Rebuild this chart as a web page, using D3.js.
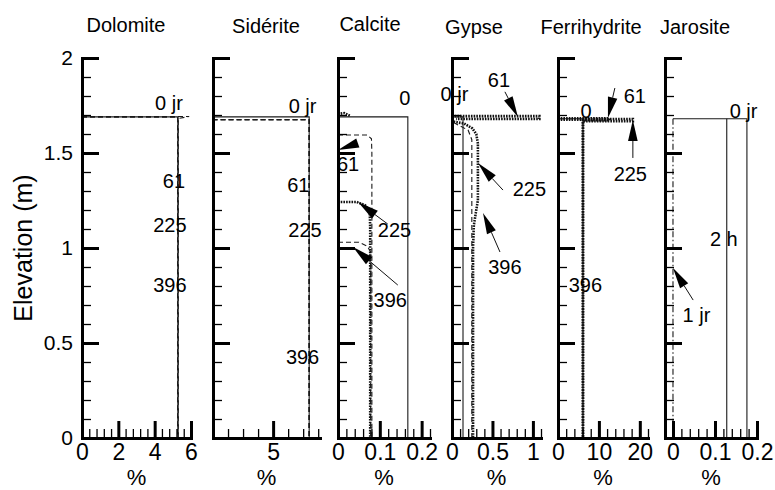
<!DOCTYPE html>
<html><head><meta charset="utf-8">
<script src="https://cdn.jsdelivr.net/npm/d3@7/dist/d3.min.js"></script>
<style>body{margin:0;background:#fff}svg{display:block;font-family:"Liberation Sans",Arial,Helvetica,sans-serif}</style>
</head><body><svg id="c" width="775" height="490"></svg>
<script>
// ---------------- DATA ----------------
const panelNames = ["Dolomite", "Sidérite", "Calcite", "Gypse", "Ferrihydrite", "Jarosite"];
const yTitle = "Elevation (m)";
const xUnit = "%";
const yDomain = [0, 2];
const yTickValues = [0, 0.5, 1, 1.5, 2];
const yTickLabels = ["0", "0.5", "1", "1.5", "2"];
const yMinorStep = 0.1;
const xDomains = [[0, 6], [4, 5.78], [0, 0.22], [0, 1.1], [0, 22], [-0.019, 0.2]];
const xTickValues = [[0, 2, 4, 6], [5], [0, 0.1, 0.2], [0, 0.5, 1], [0, 10, 20], [0, 0.1, 0.2]];
const xTickLabels = [["0", "2", "4", "6"], ["5"], ["0", "0.1", "0.2"], ["0", "0.5", "1"], ["0", "10", "20"], ["0", "0.1", "0.2"]];
const xMinorSteps = [0.4, 0.25, 0.02, 0.1, 2, 0.02];

// profiles: [value (%), elevation (m)], null = gap
const dolomiteSeries = [
  {name: "0 jr", style: "solid",  pts: [[0, 1.69], [5.28, 1.69], [5.28, 0]]},
  {name: "61",   style: "dashed", pts: [[0, 1.692], [5.9, 1.692], [5.3, 1.682], [5.3, 0]]},
  {name: "225",  style: "dashed", pts: [[0, 1.69], [5.27, 1.69], [5.27, 0]]},
  {name: "396",  style: "dashed", pts: [[0, 1.69], [5.27, 1.69], [5.27, 0]]}
];
const sideriteSeries = [
  {name: "0 jr", style: "solid",  pts: [[0, 1.69], [5.6, 1.69], [5.6, 0]]},
  {name: "61",   style: "dashed", pts: [[0, 1.675], [5.6, 1.675], [5.6, 0]]},
  {name: "225",  style: "dashed", pts: [[0, 1.675], [5.6, 1.675], [5.6, 0]]},
  {name: "396",  style: "dashed", pts: [[0, 1.675], [5.6, 1.675], [5.6, 0]]}
];
const calciteSeries = [
  {name: "0",   style: "solid",  pts: [[0, 1.69], [0.167, 1.69], [0.167, 0]]},
  {name: "61",  style: "dashed", pts: [[0, 1.595], [0.07, 1.595], [0.08, 1.575], [0.081, 1.5], [0.081, 0]]},
  {name: "225", style: "dotted", pts: [[0, 1.705], [0.015, 1.71], [0.03, 1.695], null, [0, 1.242], [0.045, 1.242], [0.065, 1.225], [0.076, 1.19], [0.077, 1.1], [0.077, 0]]},
  {name: "396", style: "dashed", pts: [[0, 1.03], [0.05, 1.03], [0.07, 1.01], [0.078, 0.98], [0.078, 0]]}
];
const gypseSeries = [
  {name: "0 jr", style: "solid",  pts: [[0, 1.69], [0.136, 1.69], [0.136, 0]]},
  {name: "61",   style: "dotted", pts: [[0, 1.694], [1.08, 1.694], [1.08, 1.679], [0.05, 1.679]]},
  {name: "225",  style: "dotted", pts: [[0.02, 1.665], [0.15, 1.655], [0.25, 1.63], [0.3, 1.6], [0.32, 1.55], [0.32, 1.25], [0.3, 1.2], [0.27, 1.12], [0.26, 1.0], [0.26, 0]]},
  {name: "396",  style: "dashed", pts: [[0.02, 1.66], [0.2, 1.62], [0.245, 1.57], [0.245, 0]]}
];
const ferriSeries = [
  {name: "0",   style: "solid",  pts: [[0, 1.68], [6.1, 1.68], [6.1, 0]]},
  {name: "61",  style: "dotted", pts: [[0, 1.682], [12.5, 1.682], [12.5, 1.672], [6.1, 1.672], [6.1, 0]]},
  {name: "225", style: "dotted", pts: [[6.1, 1.679], [18.3, 1.679], [18.3, 1.668], [6.1, 1.668]]},
  {name: "396", style: "dotted", pts: [[0, 1.675], [6.1, 1.675], [6.1, 0]]}
];
const jarositeSeries = [
  {name: "0 jr", style: "solid",   pts: [[0, 1.68], [0.176, 1.68], [0.176, 0]]},
  {name: "2 h",  style: "solid",   pts: [[0.128, 1.68], [0.128, 0]]},
  {name: "1 jr", style: "dashdot", pts: [[0, 1.68], [0, 0]]}
];
const allSeries = [dolomiteSeries, sideriteSeries, calciteSeries, gypseSeries, ferriSeries, jarositeSeries];

// curve annotations: text placed at [value, elevation]
const dolomiteLabels = [["0 jr", 4.79, 1.766], ["61", 5.06, 1.353], ["225", 4.84, 1.121], ["396", 4.84, 0.805]];
const sideriteLabels = [["0 jr", 5.49, 1.747], ["61", 5.42, 1.334], ["225", 5.53, 1.097], ["396", 5.49, 0.429]];
const calciteLabels  = [["0", 0.160, 1.792], ["61", 0.024, 1.445], ["225", 0.135, 1.095], ["396", 0.125, 0.726]];
const gypseLabels    = [["0 jr", 0.03, 1.813], ["61", 0.58, 1.884], ["225", 0.957, 1.311], ["396", 0.654, 0.903]];
const ferriLabels    = [["0", 6.83, 1.724], ["61", 18.78, 1.80], ["225", 17.68, 1.389], ["396", 6.71, 0.805]];
const jarositeLabels = [["0 jr", 0.168, 1.724], ["2 h", 0.121, 1.05], ["1 jr", 0.056, 0.647]];
const allLabels = [dolomiteLabels, sideriteLabels, calciteLabels, gypseLabels, ferriLabels, jarositeLabels];

// arrows: tip [value, elevation] and tail [value, elevation]
const calciteArrows = [[[0.0, 1.516], [0.048, 1.553]], [[0.048, 1.242], [0.119, 1.126]], [[0.036, 1.005], [0.143, 0.805]]];
const gypseArrows   = [[[0.815, 1.689], [0.654, 1.822]], [[0.321, 1.447], [0.63, 1.305]], [[0.383, 1.184], [0.593, 0.979]]];
const ferriArrows   = [[[12.2, 1.684], [13.9, 1.842]], [[18.3, 1.674], [18.3, 1.474]]];
const jarositeArrows = [[[0, 0.895], [0.048, 0.726]]];
const allArrows = [[], [], calciteArrows, gypseArrows, ferriArrows, jarositeArrows];

// ---------------- LAYOUT ----------------
const panelLeft  = [82, 213, 338, 452, 558, 665];
const panelRight = [191, 320, 430, 541, 648, 757];
const titleX = [126, 266, 370, 474, 591, 695];
const titleY = [32, 33, 31, 34, 34, 34];
const plotTop = 58, plotBottom = 438;
const styles = {
  solid:   {w: 1.1, dash: null, color: "#1a1a1a"},
  dashed:  {w: 1.1, dash: "5,3", color: "#1a1a1a"},
  dotted:  {w: 2.6, dash: "1.6,1.1", color: "#111"},
  dashdot: {w: 1.1, dash: "6,2.5,1.5,2.5", color: "#1a1a1a"}
};

const svg = d3.select("#c");
const y = d3.scaleLinear().domain(yDomain).range([plotBottom, plotTop]);
const defs = svg.append("defs");

panelNames.forEach((name, i) => {
  const x = d3.scaleLinear().domain(xDomains[i]).range([panelLeft[i], panelRight[i]]);
  const g = svg.append("g");

  defs.append("clipPath").attr("id", "clip" + i).append("rect")
    .attr("x", panelLeft[i]).attr("y", 40).attr("width", panelRight[i] - panelLeft[i] + 20).attr("height", plotBottom - 40);

  // curves
  const line = d3.line().defined(d => d !== null).x(d => x(d[0])).y(d => y(d[1]));
  const cg = g.append("g").attr("clip-path", `url(#clip${i})`);
  allSeries[i].forEach(s => {
    const st = styles[s.style];
    cg.append("path").attr("d", line(s.pts)).attr("fill", "none")
      .attr("stroke", st.color).attr("stroke-width", st.w)
      .attr("stroke-dasharray", st.dash);
  });

  // left axis: major + minor ticks (pointing inward)
  const yMinor = d3.range(0, 2.0001, yMinorStep).filter(v => !yTickValues.some(t => Math.abs(t - v) < 1e-6));
  const lMinor = g.append("g").attr("transform", `translate(${panelLeft[i]},0)`)
    .call(d3.axisLeft(y).tickValues(yMinor).tickSize(-9).tickFormat(""));
  lMinor.select(".domain").remove();
  lMinor.selectAll("line").attr("stroke-width", 1.3);
  const lMajor = g.append("g").attr("transform", `translate(${panelLeft[i]},0)`)
    .call(d3.axisLeft(y).tickValues(yTickValues).tickSize(-17).tickSizeOuter(0).tickPadding(9)
      .tickFormat((d, j) => i === 0 ? yTickLabels[j] : ""));
  lMajor.select(".domain").attr("stroke-width", 3).attr("stroke-linecap", "square");
  lMajor.selectAll(".tick line").attr("stroke-width", 3);
  lMajor.selectAll("text").attr("font-size", 21).attr("font-family", null);

  // bottom axis
  const step = xMinorSteps[i];
  const start = Math.ceil((xDomains[i][0] - 1e-9) / step) * step;
  const xMinor = d3.range(start, xDomains[i][1] + 1e-9, step)
    .filter(v => !xTickValues[i].some(t => Math.abs(t - v) < 1e-6));
  const bMinor = g.append("g").attr("transform", `translate(0,${plotBottom})`)
    .call(d3.axisBottom(x).tickValues(xMinor).tickSize(-9).tickFormat(""));
  bMinor.select(".domain").remove();
  bMinor.selectAll("line").attr("stroke-width", 1.3);
  const bMajor = g.append("g").attr("transform", `translate(0,${plotBottom})`)
    .call(d3.axisBottom(x).tickValues(xTickValues[i]).tickSize(-17).tickSizeOuter(0).tickPadding(6)
      .tickFormat((d, j) => xTickLabels[i][j]));
  bMajor.select(".domain").attr("stroke-width", 3).attr("stroke-linecap", "square");
  bMajor.selectAll(".tick line").attr("stroke-width", 3);
  bMajor.selectAll("text").attr("font-size", 23).attr("font-family", null);

  // title and unit
  g.append("text").attr("x", titleX[i]).attr("y", titleY[i]).attr("text-anchor", "middle")
    .attr("font-size", 20).text(name);
  g.append("text").attr("x", (panelLeft[i] + panelRight[i]) / 2).attr("y", 485).attr("text-anchor", "middle")
    .attr("font-size", 22).text(xUnit);

  // annotations
  allLabels[i].forEach(([t, v, e]) => {
    g.append("text").attr("x", x(v)).attr("y", y(e)).attr("dy", "0.36em").attr("text-anchor", "middle")
      .attr("font-size", 20).text(t);
  });
  allArrows[i].forEach(([tip, tail]) => {
    const tx = x(tip[0]), ty = y(tip[1]), sx = x(tail[0]), sy = y(tail[1]);
    const dx = sx - tx, dy = sy - ty, len = Math.hypot(dx, dy);
    const ux = dx / len, uy = dy / len;
    const L = Math.min(21, len), W = 4.8;
    const bx = tx + ux * L, by = ty + uy * L;
    if (len > L + 0.5) g.append("line").attr("x1", bx).attr("y1", by).attr("x2", sx).attr("y2", sy)
      .attr("stroke", "#111").attr("stroke-width", 1);
    g.append("path").attr("d", `M${tx},${ty}L${bx - uy * W},${by + ux * W}L${bx + uy * W},${by - ux * W}Z`)
      .attr("fill", "#000");
  });
});

svg.append("text").attr("transform", "translate(32,248) rotate(-90)").attr("text-anchor", "middle")
  .attr("font-size", 25).text(yTitle);
</script></body></html>
